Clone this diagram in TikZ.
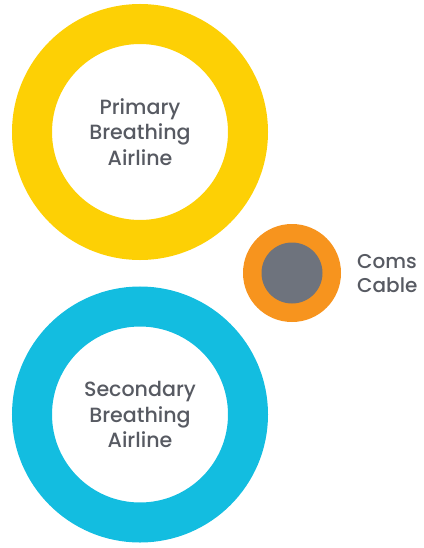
\documentclass[tikz,border=0pt]{standalone}
\usepackage{fontspec}
\setmainfont{Poppins}[UprightFont=* Medium]
\definecolor{airyellow}{HTML}{FDD005}
\definecolor{aircyan}{HTML}{13BDE0}
\definecolor{comsorange}{HTML}{F7941E}
\definecolor{comsgray}{HTML}{6E737D}
\definecolor{labelgray}{HTML}{575A62}
\tikzset{
  ring/.style={circle, line width=40pt, minimum size=216pt, inner sep=0pt,
    text=labelgray, align=center, font=\fontsize{20.6}{25.5}\selectfont},
  label/.style={text=labelgray, align=left, anchor=west, inner sep=0pt,
    font=\fontsize{20}{24}\selectfont}
}
\begin{document}
\begin{tikzpicture}[x=1pt, y=-1pt]
  \useasboundingbox (0,0) rectangle (423,548);
  \node[ring, draw=airyellow] (primary) at (140,132) {Primary\\Breathing\\Airline};
  \node[ring, draw=aircyan] (secondary) at (140,414.5) {Secondary\\Breathing\\Airline};
  \node[circle, fill=comsorange, minimum size=98pt, inner sep=0pt] (coms) at (292,273) {};
  \node[circle, fill=comsgray, minimum size=61pt, inner sep=0pt] (core) at (coms) {};
  \node[label] (comslabel) at (357,274) {Coms\\Cable};
\end{tikzpicture}
\end{document}
